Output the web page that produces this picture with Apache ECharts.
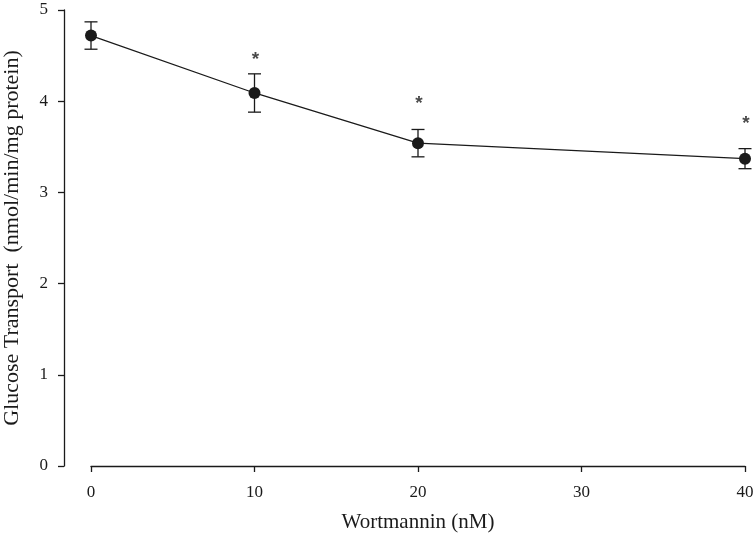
<!DOCTYPE html>
<html><head><meta charset="utf-8">
<script src="https://cdn.jsdelivr.net/npm/echarts@6/dist/echarts.min.js"></script>
<style>html,body{margin:0;padding:0;background:#fff}#c{width:754px;height:545px}</style>
</head><body><div id="c"></div>
<script>
var doses = [0, 10, 20, 40];
var means = [4.72, 4.09, 3.54, 3.37];
var errors = [0.15, 0.21, 0.15, 0.11];
var asteriskHeights = [null, 4.49, 4.00, 3.79];
var xTicks = [0, 10, 20, 30, 40];
var yTicks = [0, 1, 2, 3, 4, 5];

var chart = echarts.init(document.getElementById('c'), null, {renderer: 'canvas'});
var font = 'Liberation Serif';
var ink = '#1a1a1a';
var lineData = doses.map(function (d, i) { return [d, means[i]]; });
var errData = doses.map(function (d, i) { return [d, means[i] - errors[i], means[i] + errors[i]]; });
var starData = [];
doses.forEach(function (d, i) { if (asteriskHeights[i] !== null) starData.push([d, asteriskHeights[i]]); });

chart.setOption({
  animation: false,
  backgroundColor: '#fff',
  grid: {left: 91, right: 9, top: 10, bottom: 79, containLabel: false, outerBoundsMode: 'none'},
  xAxis: {
    type: 'value', min: xTicks[0], max: xTicks[xTicks.length - 1], interval: 10,
    name: 'Wortmannin (nM)', nameLocation: 'middle', nameGap: 46,
    nameTextStyle: {fontFamily: font, fontSize: 21, color: ink},
    axisLine: {show: true, onZero: false, lineStyle: {color: ink, width: 1.3}},
    axisTick: {show: true, length: 6, lineStyle: {color: ink, width: 1.3}},
    axisLabel: {fontFamily: font, fontSize: 17, color: ink, margin: 18},
    splitLine: {show: false}
  },
  yAxis: {
    type: 'value', min: yTicks[0], max: yTicks[yTicks.length - 1], interval: 1,
    offset: 27,
    name: 'Glucose Transport  (nmol/min/mg protein)', nameLocation: 'middle', nameGap: 41,
    nameTextStyle: {fontFamily: font, fontSize: 22, color: ink},
    axisLine: {show: true, onZero: false, lineStyle: {color: ink, width: 1.3}},
    axisTick: {show: true, length: 6, lineStyle: {color: ink, width: 1.3}},
    axisLabel: {fontFamily: font, fontSize: 17, color: ink, margin: 16},
    splitLine: {show: false}
  },
  series: [
    {
      type: 'custom',
      data: errData,
      z: 3,
      renderItem: function (params, api) {
        var x = api.value(0);
        var lo = api.coord([x, api.value(1)]);
        var hi = api.coord([x, api.value(2)]);
        var hw = 6.5;
        var style = {stroke: ink, lineWidth: 1.3, fill: null};
        return {type: 'group', children: [
          {type: 'line', shape: {x1: lo[0], y1: lo[1], x2: hi[0], y2: hi[1]}, style: style},
          {type: 'line', shape: {x1: lo[0] - hw, y1: lo[1], x2: lo[0] + hw, y2: lo[1]}, style: style},
          {type: 'line', shape: {x1: hi[0] - hw, y1: hi[1], x2: hi[0] + hw, y2: hi[1]}, style: style}
        ]};
      }
    },
    {
      type: 'line',
      data: lineData,
      z: 4,
      symbol: 'circle', symbolSize: 12,
      itemStyle: {color: ink},
      lineStyle: {color: ink, width: 1.3}
    },
    {
      type: 'scatter',
      data: starData,
      symbolSize: 0,
      z: 5,
      label: {show: true, position: 'inside', formatter: '*', fontFamily: 'Liberation Sans', fontSize: 19, fontWeight: 'bold', color: ink, offset: [1, 3]}
    }
  ]
});
</script></body></html>
